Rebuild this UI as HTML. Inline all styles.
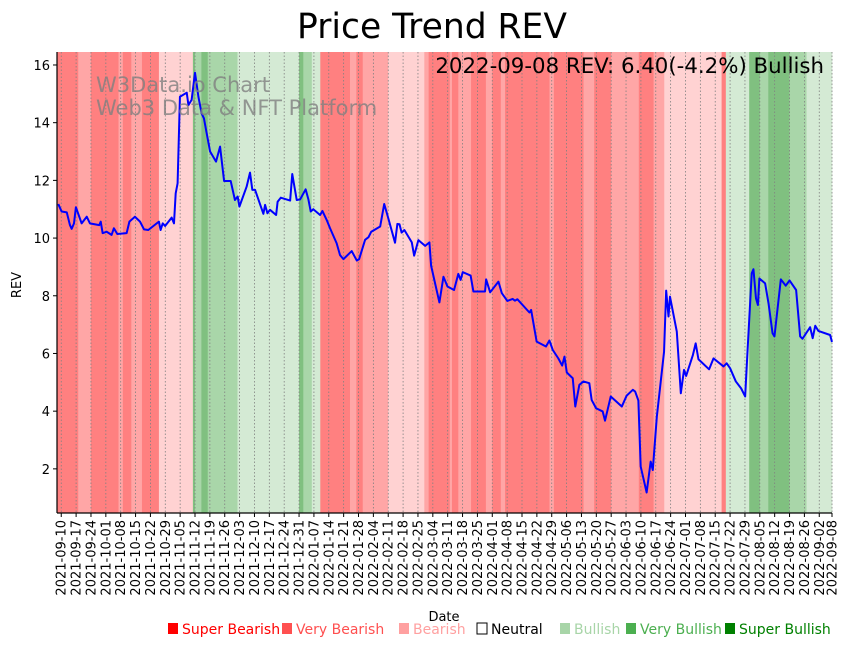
<!DOCTYPE html>
<html>
<head>
<meta charset="utf-8">
<style>
  html, body { margin: 0; padding: 0; background: #fff; }
  body { width: 851px; height: 646px; overflow: hidden; font-family: "Liberation Sans", "DejaVu Sans", sans-serif; }
  svg text { font-family: "DejaVu Sans", "Liberation Sans", sans-serif; }
</style>
</head>
<body>
<svg id="chart" width="851" height="646" viewBox="0 0 851 646" xmlns="http://www.w3.org/2000/svg">
  <g id="bands"></g>
  <g id="grid"></g>
  <g id="line"></g>
  <g id="axes"></g>
  <text x="432" y="38" font-size="34.5" text-anchor="middle" fill="#000">Price Trend REV</text>
  <text x="96" y="92" font-size="21" fill="#808080" fill-opacity="0.8">W3Data.io Chart</text>
  <text x="96" y="115" font-size="21" fill="#808080" fill-opacity="0.8">Web3 Data &amp; NFT Platform</text>
  <text x="824" y="73" font-size="21.3" text-anchor="end" fill="#000">2022-09-08 REV: 6.40(-4.2%) Bullish</text>
  <text transform="translate(21,285) rotate(-90)" font-size="13" text-anchor="middle">REV</text>
  <text x="444" y="621" font-size="13" text-anchor="middle">Date</text>
  <g id="legend"></g>
</svg>
<script>
// ---- data ----
var startDate = "2021-09-08";
var priceDays = [0.6,2.2,4.6,6.1,6.9,8.0,8.9,11.6,14.0,15.5,19.9,20.6,21.5,23.4,25.7,26.8,28.4,32.8,34.1,36.7,39.1,41.0,43.0,48.0,48.8,49.8,50.9,54.0,55.1,55.9,56.8,57.9,61.1,61.9,63.4,65.0,66.6,68.1,69.2,70.5,72.1,74.9,76.8,78.7,81.8,83.8,85.1,85.9,89.3,90.9,92.0,93.3,97.2,98.0,99.1,100.3,103.2,103.9,105.4,109.8,110.8,112.9,114.5,117.1,118.4,119.5,120.7,123.9,125.0,127.0,128.6,131.7,133.3,134.9,138.8,141.2,142.3,145.1,146.7,148.0,152.2,154.1,155.6,159.2,160.3,161.3,162.3,163.6,167.1,168.2,170.2,173.4,175.4,176.2,180.1,182.0,183.9,187.0,189.0,190.1,191.1,194.8,196.1,201.6,202.1,204.0,207.9,209.5,212.1,214.6,215.7,216.8,222.5,223.3,225.9,230.3,231.9,233.5,236.1,237.9,239.0,240.1,242.9,244.1,246.0,247.9,250.7,251.8,253.9,257.0,258.1,260.8,266.0,268.3,271.2,272.3,273.8,274.9,277.7,279.6,280.6,282.5,285.9,286.9,288.0,288.7,291.9,293.8,295.3,296.3,299.5,300.8,302.1,307.1,309.2,313.9,315.4,317.0,319.7,322.2,324.1,325.2,327.2,328.0,329.2,330.1,330.8,333.5,335.1,337.0,337.9,340.9,343.2,345.0,348.1,350.0,351.1,354.7,355.9,357.1,358.6,364.1,365.4];
var priceValues = [11.18,10.92,10.89,10.45,10.32,10.51,11.07,10.51,10.74,10.51,10.45,10.57,10.17,10.22,10.11,10.34,10.14,10.17,10.57,10.74,10.57,10.30,10.28,10.57,10.28,10.51,10.42,10.71,10.51,11.55,11.90,14.90,15.04,14.61,14.79,15.73,14.90,14.32,14.15,13.63,13.00,12.65,13.17,11.98,11.98,11.32,11.44,11.09,11.78,12.27,11.67,11.67,10.84,11.15,10.86,10.98,10.80,11.26,11.40,11.30,12.22,11.32,11.34,11.69,11.34,10.92,11.00,10.80,10.94,10.63,10.34,9.82,9.41,9.27,9.55,9.22,9.27,9.94,10.03,10.22,10.40,11.18,10.80,9.84,10.49,10.48,10.19,10.28,9.85,9.39,9.93,9.73,9.85,9.04,7.77,8.66,8.32,8.20,8.76,8.55,8.82,8.70,8.15,8.15,8.57,8.12,8.49,8.09,7.82,7.89,7.83,7.88,7.42,7.51,6.41,6.24,6.45,6.12,5.83,5.58,5.89,5.34,5.14,4.16,4.91,5.03,4.97,4.39,4.10,3.99,3.67,4.51,4.16,4.54,4.74,4.68,4.37,2.08,1.18,2.25,1.96,3.81,6.06,8.18,7.28,7.97,6.76,4.62,5.43,5.22,5.95,6.35,5.80,5.45,5.83,5.55,5.66,5.49,5.03,4.79,4.51,6.06,8.78,8.92,7.91,7.68,8.60,8.43,7.74,6.70,6.59,8.57,8.35,8.53,8.20,6.59,6.51,6.91,6.53,6.96,6.78,6.64,6.40];
var bandStarts = [0,10,16,29,31,35,40,48,64,65,68,71,85,114,116,120,124,138,141,144,156,173,175,185,186,189,195,202,205,209,211,232,234,248,253,261,274,281,286,313,315,326,331,335,345,353];
var bandLevels = [-3,-2,-3,-2,-3,-2,-3,-1,3,2,3,2,1,3,2,1,-3,-2,-3,-2,-1,-2,-3,-2,-3,-2,-3,-2,-3,-2,-3,-2,-3,-2,-3,-2,-3,-2,-1,-3,1,3,2,3,2,1];
var yTicks = [2,4,6,8,10,12,14,16];
var tickDays = [2,9,16,23,30,37,44,51,58,65,72,79,86,93,100,107,114,121,128,135,142,149,156,163,170,177,184,191,198,205,212,219,226,233,240,247,254,261,268,275,282,289,296,303,310,317,324,331,338,345,352,359,365];
var tickLabels = ["2021-09-10","2021-09-17","2021-09-24","2021-10-01","2021-10-08","2021-10-15","2021-10-22","2021-10-29","2021-11-05","2021-11-12","2021-11-19","2021-11-26","2021-12-03","2021-12-10","2021-12-17","2021-12-24","2021-12-31","2022-01-07","2022-01-14","2022-01-21","2022-01-28","2022-02-04","2022-02-11","2022-02-18","2022-02-25","2022-03-04","2022-03-11","2022-03-18","2022-03-25","2022-04-01","2022-04-08","2022-04-15","2022-04-22","2022-04-29","2022-05-06","2022-05-13","2022-05-20","2022-05-27","2022-06-03","2022-06-10","2022-06-17","2022-06-24","2022-07-01","2022-07-08","2022-07-15","2022-07-22","2022-07-29","2022-08-05","2022-08-12","2022-08-19","2022-08-26","2022-09-02","2022-09-08"];
var legendLabels = ["Super Bearish","Very Bearish","Bearish","Neutral","Bullish","Very Bullish","Super Bullish"];

// ---- layout ----
var PL = 57, PR = 832, PT = 52, PB = 513;
var D0 = 0, D1 = 365;
var V0 = 0.47, V1 = 16.45;
function xs(d){ return PL + (d - D0) / (D1 - D0) * (PR - PL); }
function ys(v){ return PB - (v - V0) / (V1 - V0) * (PB - PT); }
var NS = "http://www.w3.org/2000/svg";
function mk(tag, attrs, parent){ var e = document.createElementNS(NS, tag); for (var k in attrs) e.setAttribute(k, attrs[k]); parent.appendChild(e); return e; }
var bandColor = {"-3":"#ff8080","-2":"#ffa6a6","-1":"#ffd2d2","0":"#ffffff","1":"#d4ead4","2":"#a9d6a9","3":"#80c080"};

// bands
var gB = document.getElementById('bands');
for (var i = 0; i < bandStarts.length; i++) {
  var s = bandStarts[i], e = (i + 1 < bandStarts.length) ? bandStarts[i+1] : D1;
  var r = mk('rect', {x: xs(s), y: PT, width: xs(e) - xs(s) + 0.3, height: PB - PT, fill: bandColor[bandLevels[i]]}, gB);
  
  
}

// grid + x ticks
var gG = document.getElementById('grid');
var gA = document.getElementById('axes');
for (var j = 0; j < tickDays.length; j++) {
  var tx = xs(tickDays[j]);
  var gl = mk('line', {x1: tx, x2: tx, y1: PT, y2: PB, stroke: '#808080', 'stroke-width': 0.8, 'stroke-dasharray': '1.5,2'}, gG);
  
  
  var tk = mk('line', {x1: tx, x2: tx, y1: PB, y2: PB + 4, stroke: '#000', 'stroke-width': 1}, gA);
  
  
  var tl = mk('text', {transform: 'translate(' + (tx + 4.5) + ',' + (PB + 7) + ') rotate(-90)', 'font-size': 13, 'text-anchor': 'end', fill: '#000'}, gA);
  tl.textContent = tickLabels[j];
  
  
}

// y ticks
for (var k = 0; k < yTicks.length; k++) {
  var ty = ys(yTicks[k]);
  var yt = mk('line', {x1: PL - 4, x2: PL, y1: ty, y2: ty, stroke: '#000', 'stroke-width': 1}, gA);
  
  
  var yl = mk('text', {x: PL - 7, y: ty + 5, 'font-size': 13, 'text-anchor': 'end', fill: '#000'}, gA);
  yl.textContent = yTicks[k];
  
  
}

// spines
var sl = mk('line', {x1: PL, x2: PL, y1: PT, y2: PB, stroke: '#000', 'stroke-width': 1.2}, gA);


var sb = mk('line', {x1: PL, x2: PR, y1: PB, y2: PB, stroke: '#000', 'stroke-width': 1.2}, gA);



// price line
var pts = [];
for (var p = 0; p < priceDays.length; p++) pts.push(xs(Math.min(priceDays[p], D1)).toFixed(2) + ',' + ys(priceValues[p]).toFixed(2));
var pl = mk('polyline', {points: pts.join(' '), fill: 'none', stroke: '#0000ff', 'stroke-width': 2, 'stroke-linejoin': 'round'}, document.getElementById('line'));



// legend
var legX = [167, 281, 398, 476, 559, 625, 724];
var legSq = ["#ff0000","#ff5050","#ffa0a0","none","#a8d5a8","#4caf50","#008000"];
var legTx = ["#ff0000","#ff5050","#ffa0a0","#000000","#a8d5a8","#4caf50","#008000"];
var gL = document.getElementById('legend');
for (var m = 0; m < legendLabels.length; m++) {
  var it = mk('g', {}, gL);
  
  
  mk('rect', {x: legX[m] + 1, y: 623, width: 10, height: 11, fill: legSq[m], stroke: legSq[m] === 'none' ? '#000' : 'none', 'stroke-width': 1}, it);
  var lt = mk('text', {x: legX[m] + 15, y: 634, 'font-size': 14, fill: legTx[m]}, it);
  lt.textContent = legendLabels[m];
}
</script>
</body>
</html>
